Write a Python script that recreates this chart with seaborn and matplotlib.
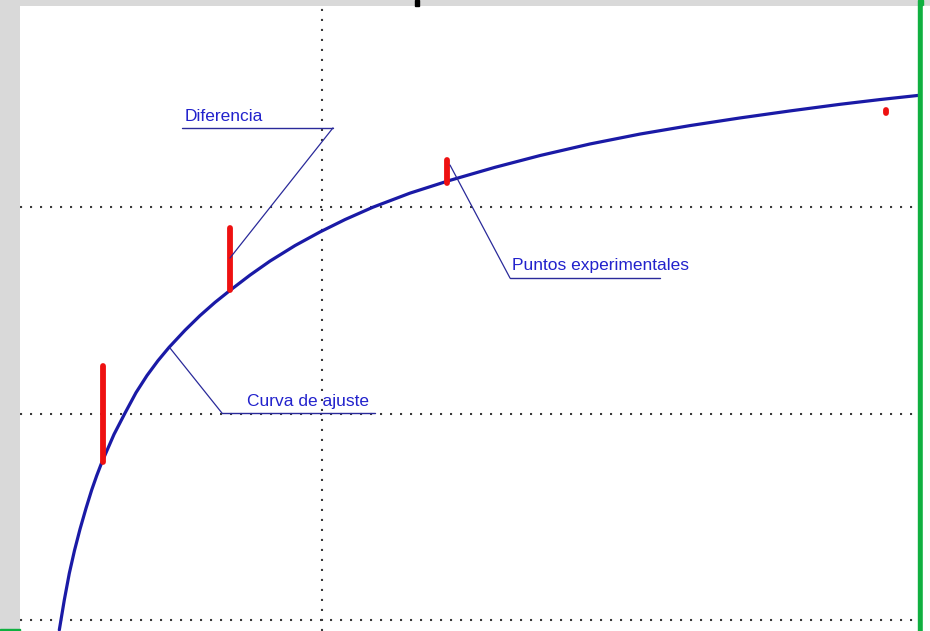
import pandas as pd
import matplotlib.pyplot as plt
import seaborn as sns
from matplotlib.patches import Rectangle

# curva de ajuste
curve_x = [0.373, 0.423, 0.473, 0.525, 0.58, 0.64, 0.697, 0.747, 0.797, 0.92,
           1.03, 1.14, 1.25, 1.36, 1.47, 1.63, 1.78, 1.93, 2.08, 2.28, 2.48,
           2.73, 2.98, 3.23, 3.51, 3.88, 4.28, 4.73, 5.18, 5.68, 6.18, 6.68,
           7.18, 7.68, 8.18, 8.58, 8.98]
curve_y = [-0.048, 0.097, 0.226, 0.337, 0.440, 0.541, 0.630, 0.699, 0.762, 0.899,
           1.002, 1.101, 1.184, 1.256, 1.320, 1.403, 1.474, 1.538, 1.596, 1.670,
           1.738, 1.813, 1.879, 1.939, 1.999, 2.067, 2.129, 2.192, 2.249, 2.305,
           2.353, 2.394, 2.431, 2.465, 2.497, 2.520, 2.541]

# puntos experimentales y su diferencia con la curva
exp_x = [0.81, 2.08, 4.25, 8.64]
exp_top = [1.230, 1.898, 2.228, 2.470]
exp_bottom = [0.765, 1.600, 2.116, 2.455]

grid_x = [3]
grid_y = [0, 1, 2]

labels = ['Diferencia', 'Puntos experimentales', 'Curva de ajuste']
label_xy = [(1.63, 2.436), (4.90, 1.719), (2.25, 1.056)]
underline_x = [(1.60, 3.11), (4.88, 6.38), (2.00, 3.53)]
underline_y = [2.383, 1.656, 1.002]
leader_end = [(2.08, 1.753), (4.28, 2.203), (1.48, 1.317)]
leader_start = [(3.11, 2.383), (4.88, 1.656), (2.00, 1.002)]

sns.set_theme(style="white")
plt.rcParams['font.family'] = ['Liberation Sans', 'DejaVu Sans']

fig = plt.figure(figsize=(9.3, 6.31), dpi=100, facecolor='#d9d9d9')
W, H = 930, 631
ax = fig.add_axes([20 / W, 0, 900 / W, 625 / H])
ax.set_facecolor('white')

# rejilla punteada
for gx in grid_x:
    ax.axvline(gx, color='#3a3a3a', lw=1.5, ls=(0, (1, 3.8)), zorder=1)
for gy in grid_y:
    ax.axhline(gy, color='#3a3a3a', lw=1.5, ls=(0, (1, 3.8)), zorder=1)

df = pd.DataFrame({'x': curve_x, 'y': curve_y})
sns.lineplot(data=df, x='x', y='y', sort=False, color='#1a1aa6', lw=2.3, ax=ax, zorder=3)

for x, t, b in zip(exp_x, exp_top, exp_bottom):
    ax.plot([x, x], [b, t], color='#ee1111', lw=4.2, solid_capstyle='round', zorder=4)

for lab, (tx, ty), (ux0, ux1), uy, (sx, sy), (ex, ey) in zip(
        labels, label_xy, underline_x, underline_y, leader_start, leader_end):
    ax.text(tx, ty, lab, color='#2222cc', fontsize=12.5, va='center', ha='left', zorder=5)
    ax.plot([ux0, ux1], [uy, uy], color='#2a2a9a', lw=1.0, zorder=5)
    ax.plot([sx, ex], [sy, ey], color='#2a2a9a', lw=0.9, zorder=5)

ax.set_xlim(-0.02, 8.98)
ax.set_ylim(-0.053, 2.973)
ax.set_xticks([])
ax.set_yticks([])
ax.set_xlabel('')
ax.set_ylabel('')
for s in ax.spines.values():
    s.set_visible(False)

# marcos de la ventana
fig.patches.append(Rectangle((918 / W, 0), 5 / W, 1, transform=fig.transFigure,
                             color='#10b040', zorder=10))
fig.patches.append(Rectangle((923 / W, 0), 7 / W, 625 / H, transform=fig.transFigure,
                             color='white', zorder=10))
fig.patches.append(Rectangle((415 / W, 625 / H), 4 / W, 6 / H, transform=fig.transFigure,
                             color='black', zorder=10))
fig.patches.append(Rectangle((0, 0), 20 / W, 2 / H, transform=fig.transFigure,
                             color='#10b040', zorder=10))

fig.savefig('out.png', dpi=100, facecolor=fig.get_facecolor())
